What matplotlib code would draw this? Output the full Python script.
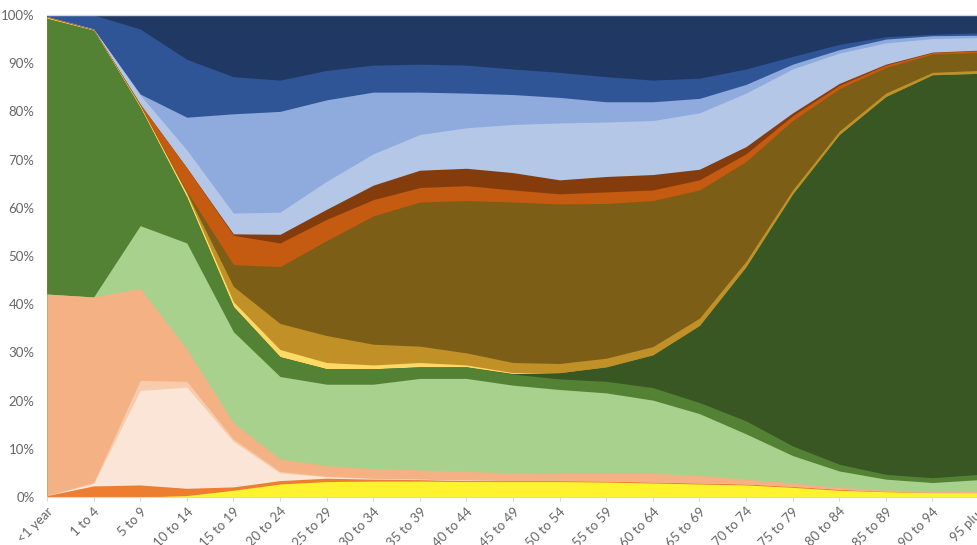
import numpy as np
import matplotlib
matplotlib.use("Agg")
import matplotlib.pyplot as plt

plt.rcParams['font.family'] = ['Lato', 'DejaVu Sans']

categories = ["<1 year", "1 to 4", "5 to 9", "10 to 14", "15 to 19", "20 to 24",
              "25 to 29", "30 to 34", "35 to 39", "40 to 44", "45 to 49", "50 to 54",
              "55 to 59", "60 to 64", "65 to 69", "70 to 74", "75 to 79", "80 to 84",
              "85 to 89", "90 to 94", "95 plus"]

# Series values (% share per age band), bottom to top
s_yellow      = [0, 0, 0, 0.3, 1.4, 2.7, 3.2, 3.3, 3.3, 3.2, 3.2, 3.2, 3.1, 2.9, 2.7, 2.5, 2.0, 1.4, 1.1, 0.9, 0.9]
s_orange      = [0.3, 2.3, 2.5, 1.5, 0.7, 0.7, 0.7, 0.4, 0.3, 0.2, 0.2, 0.2, 0.2, 0.2, 0.2, 0.2, 0.2, 0.2, 0.1, 0.1, 0.1]
s_peach_light = [0, 0.5, 19.6, 21.0, 9.4, 1.6, 0.3, 0.1, 0.1, 0.1, 0, 0, 0, 0, 0, 0, 0, 0, 0, 0, 0]
s_peach_mid   = [0, 0.2, 2.1, 1.2, 0.5, 0.3, 0.1, 0.1, 0, 0, 0, 0, 0, 0, 0, 0, 0, 0, 0, 0, 0]
s_peach       = [41.8, 38.5, 19.1, 6.7, 3.4, 2.6, 2.2, 2.0, 1.9, 1.8, 1.6, 1.5, 1.6, 1.8, 1.6, 1.0, 0.7, 0.4, 0.2, 0.2, 0.3]
s_green_light = [0, 0, 13.0, 22.0, 18.9, 17.1, 16.9, 17.5, 19.0, 19.3, 18.2, 17.4, 16.7, 15.2, 12.8, 9.4, 5.7, 3.4, 2.3, 1.8, 2.3]
s_green_mid   = [57.2, 55.3, 24.5, 9.5, 5.2, 4.1, 3.2, 3.2, 2.4, 2.4, 2.3, 2.2, 2.4, 2.6, 2.3, 2.7, 2.0, 1.4, 1.0, 1.0, 1.1]
s_green_dark  = [0, 0, 0, 0, 0, 0, 0, 0, 0, 0, 0.1, 1.3, 3.0, 6.8, 16.0, 32.0, 52.3, 68.4, 78.4, 83.6, 83.2]
s_gold_light  = [0.2, 0.1, 0.3, 0.7, 1.0, 1.5, 1.3, 0.8, 0.9, 0.4, 0.2, 0, 0, 0, 0, 0, 0, 0, 0, 0, 0]
s_gold        = [0.1, 0, 0.1, 0.2, 3.2, 5.4, 5.6, 4.3, 3.4, 2.5, 2.1, 1.9, 1.8, 1.7, 1.5, 1.1, 0.8, 0.7, 0.7, 0.5, 0.6]
s_olive       = [0, 0, 0, 0.3, 4.5, 11.8, 19.7, 26.6, 29.9, 31.6, 33.3, 33.1, 32.1, 30.3, 26.6, 20.7, 14.4, 8.8, 5.3, 3.8, 3.7]
s_rust        = [0.1, 0.1, 0.3, 4.9, 6.1, 4.9, 4.4, 3.4, 3.0, 3.1, 2.5, 2.1, 2.4, 2.2, 2.1, 1.6, 1.0, 0.7, 0.5, 0.3, 0.4]
s_brown       = [0, 0, 0, 0, 0.3, 1.8, 2.1, 3.0, 3.6, 3.6, 3.6, 2.9, 3.2, 3.2, 2.2, 1.5, 0.6, 0.4, 0.2, 0.1, 0.1]
s_blue_pale   = [0, 0.1, 1.9, 3.7, 4.3, 4.6, 5.8, 6.5, 7.4, 8.4, 10.0, 11.8, 11.3, 11.2, 11.7, 11.1, 9.1, 6.3, 4.4, 2.8, 2.6]
s_blue_light  = [0, 0, 0.2, 6.8, 20.6, 20.9, 16.9, 12.8, 8.8, 7.2, 6.2, 5.3, 4.2, 3.9, 3.0, 1.8, 1.0, 0.7, 0.8, 0.6, 0.5]
s_blue        = [0.3, 2.9, 13.5, 12.0, 7.7, 6.5, 6.1, 5.6, 5.8, 5.8, 5.3, 5.2, 5.2, 4.5, 4.2, 3.2, 1.6, 1.1, 0.5, 0.3, 0.5]
s_navy        = [0, 0, 2.9, 9.2, 12.8, 13.5, 11.5, 10.4, 10.2, 10.4, 11.2, 11.9, 12.8, 13.5, 13.1, 11.2, 8.6, 6.1, 4.5, 4.0, 3.7]

series = [s_yellow, s_orange, s_peach_light, s_peach_mid, s_peach, s_green_light,
          s_green_mid, s_green_dark, s_gold_light, s_gold, s_olive, s_rust, s_brown,
          s_blue_pale, s_blue_light, s_blue, s_navy]
colors = ["#FFF22E", "#ED7D31", "#FBE5D6", "#F8CBAD", "#F4B183", "#A9D18E",
          "#548235", "#385723", "#FFD966", "#C19026", "#7C5E17", "#C55A11", "#843C0C",
          "#B4C7E7", "#8FAADC", "#2F5597", "#203864"]

data = np.array(series, dtype=float)
data = data / data.sum(axis=0) * 100.0
tops = np.cumsum(data, axis=0)
x = np.arange(len(categories))

fig = plt.figure(figsize=(9.78, 5.45), dpi=100)
ax = fig.add_axes([47 / 978, 48 / 545, 932 / 978, 482 / 545])

# paint from top layer down so layers overlap without seams
for k in range(len(series) - 1, -1, -1):
    ax.fill_between(x, 0, tops[k], color=colors[k], linewidth=0, zorder=2)

ax.set_xlim(0, 20)
ax.set_ylim(0, 100)
ax.axhline(100, color="#D9D9D9", lw=1, zorder=3, clip_on=False)

for s in ["left", "right", "top"]:
    ax.spines[s].set_visible(False)
ax.spines["bottom"].set_color("#D9D9D9")
ax.spines["bottom"].set_zorder(4)

ax.set_yticks(np.arange(0, 101, 10))
ax.set_yticklabels([f"{v}%" for v in range(0, 101, 10)])
ax.tick_params(axis="y", length=0, labelsize=9.5, labelcolor="#666666", pad=9)

ax.set_xticks(x)
ax.set_xticklabels(categories, rotation=45, ha="right", rotation_mode="anchor")
ax.tick_params(axis="x", length=3, color="#D9D9D9", labelsize=9.5,
               labelcolor="#666666", pad=3)

fig.savefig("out.png", dpi=100)
